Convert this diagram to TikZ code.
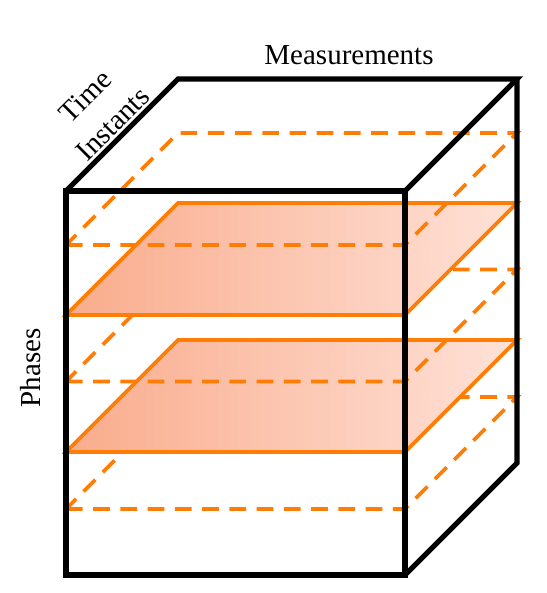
\documentclass[tikz,border=0pt]{standalone}
\usepackage{fontspec}
\setmainfont{Liberation Serif}
\usepackage{xcolor}
\usepackage{tikz}
\definecolor{org}{RGB}{255, 125, 5}
\definecolor{slabL}{RGB}{249, 172, 140}
\definecolor{slabR}{RGB}{255, 226, 216}

\begin{document}
\begin{tikzpicture}[
    edge/.style={draw=black, line width=3pt},
    dslab/.style={draw=org, line width=2.1pt, dash pattern=on 9.5pt off 6pt},
    sslab/.style={draw=org, line width=2.1pt, left color=slabL, right color=slabR},
    lbl/.style={font=\fontsize{16.5}{20}\selectfont, inner sep=0pt, align=center}
  ]
  \useasboundingbox (-1.32,-0.36) rectangle (9.62,11.5);

  % slabs, bottom to top
  \draw[dslab] (0,1.32) -- ++(6.78,0) -- ++(2.24,2.24) -- ++(-6.78,0) -- cycle;
  \draw[sslab] (0,2.46) -- ++(6.78,0) -- ++(2.24,2.24) -- ++(-6.78,0) -- cycle;
  \draw[dslab] (0,3.87) -- ++(6.78,0) -- ++(2.24,2.24) -- ++(-6.78,0) -- cycle;
  \draw[sslab] (0,5.2) -- ++(6.78,0) -- ++(2.24,2.24) -- ++(-6.78,0) -- cycle;
  \draw[dslab] (0,6.6) -- ++(6.78,0) -- ++(2.24,2.24) -- ++(-6.78,0) -- cycle;

  % cube
  \coordinate (fbl) at (0,0);
  \coordinate (fbr) at (6.78,0);
  \coordinate (ftr) at (6.78,7.68);
  \coordinate (ftl) at (0,7.68);
  \coordinate (btl) at (2.24,9.92);
  \coordinate (btr) at (9.02,9.92);
  \coordinate (bbr) at (9.02,2.24);
  \draw[edge] (fbl) rectangle (ftr);
  \draw[edge] (ftl) -- (btl) -- (btr) -- (ftr);
  \draw[edge] (btr) -- (bbr) -- (fbr);

  % axis labels
  \node[lbl] (meas) at (5.66,10.39) {Measurements};
  \node[lbl, rotate=90] (phases) at (-0.7,4.14) {Phases};
  \node[lbl, rotate=45] (time) at (0.66,9.3) {Time\\[2pt]Instants};
\end{tikzpicture}
\end{document}
